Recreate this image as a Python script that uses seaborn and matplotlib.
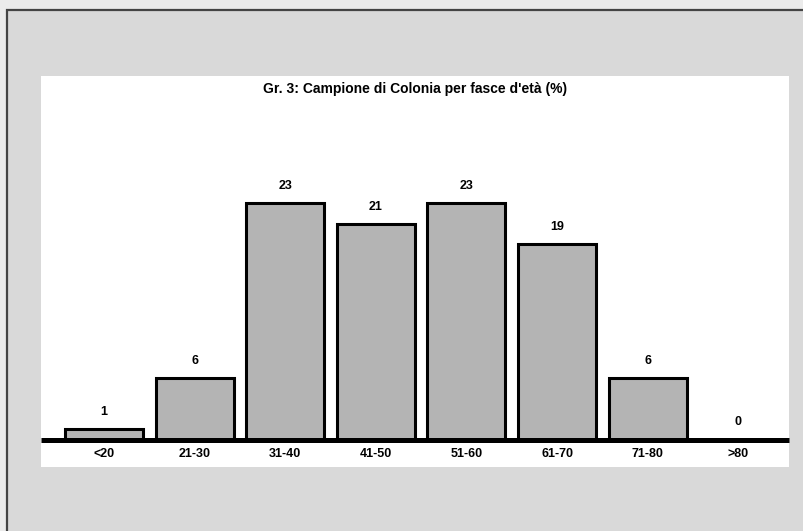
import matplotlib
matplotlib.use("Agg")
import matplotlib.pyplot as plt
from matplotlib.patches import Rectangle
import seaborn as sns
import pandas as pd

# fasce d'età e percentuali
fasce = ["<20", "21-30", "31-40", "41-50", "51-60", "61-70", "71-80", ">80"]
valori = [1, 6, 23, 21, 23, 19, 6, 0]
titolo = "Gr. 3: Campione di Colonia per fasce d'età (%)"

df = pd.DataFrame({"fascia": fasce, "perc": valori})

sns.set_style("white")
plt.rcParams["font.family"] = ["Liberation Sans", "DejaVu Sans"]
plt.rcParams["text.color"] = "black"
plt.rcParams["xtick.color"] = "black"

W, H = 804, 531
fig = plt.figure(figsize=(W / 100, H / 100), dpi=100)
fig.patch.set_facecolor("#d9d9d9")

# cornice esterna
fig.patches.append(Rectangle((0, 0), 1, 1, transform=fig.transFigure,
                             facecolor="#ebebeb", edgecolor="none", zorder=-3))
fig.patches.append(Rectangle((7 / W, -0.1), 1.2, (H - 10) / H + 0.1,
                             transform=fig.transFigure, facecolor="#d9d9d9",
                             edgecolor="#444444", linewidth=1.6, zorder=-2))
# pannello bianco
fig.patches.append(Rectangle((41 / W, (H - 467) / H), 748 / W, 391 / H,
                             transform=fig.transFigure, facecolor="white",
                             edgecolor="none", zorder=-1))

ax = fig.add_axes([41 / W, (H - 439.5) / H, 748 / W, 363.5 / H])
ax.set_facecolor("white")

sns.barplot(data=df, x="fascia", y="perc", ax=ax, width=0.86,
            color="#b4b4b4", saturation=1, edgecolor="black", linewidth=2.2)

for c in ax.containers:
    ax.bar_label(c, padding=8, fontsize=9, fontweight="bold", color="black")

ax.set_xlim(-0.695, 7.56)
ax.set_ylim(0, 35.4)
ax.set_xlabel("")
ax.set_ylabel("")
ax.set_yticks([])
ax.tick_params(axis="x", length=0, pad=6, labelcolor="black")
for lab in ax.get_xticklabels():
    lab.set_fontsize(9)
    lab.set_fontweight("bold")

for s in ["top", "right", "left"]:
    ax.spines[s].set_visible(False)
ax.spines["bottom"].set_linewidth(3.6)
ax.spines["bottom"].set_color("black")
ax.spines["bottom"].set_capstyle("butt")

ax.set_title(titolo, fontsize=10, fontweight="bold", y=0.93, color="black")

fig.savefig("out.png", dpi=100)
